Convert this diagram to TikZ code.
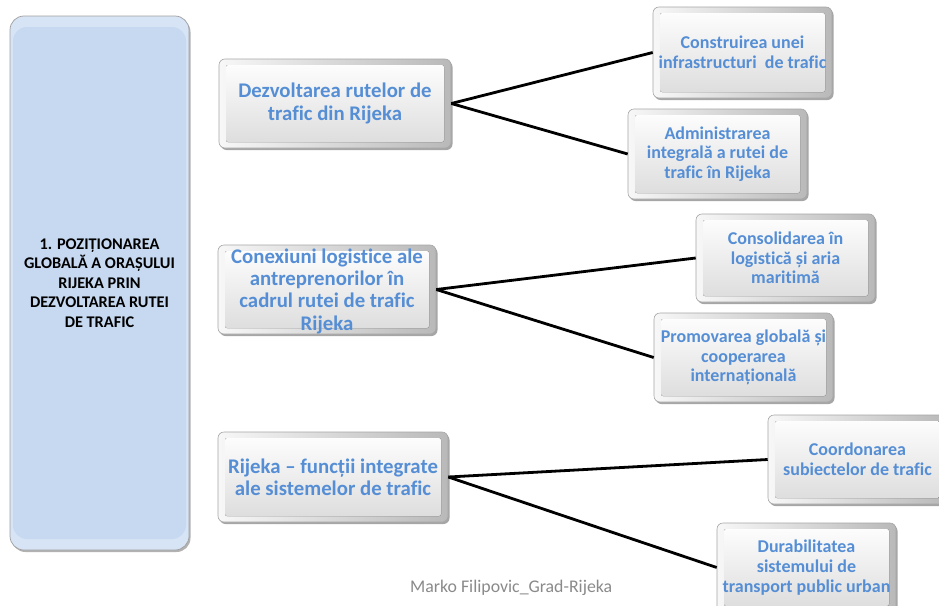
\documentclass[tikz,border=0pt]{standalone}
\usepackage{fontspec}
\setmainfont[Ligatures=CommonOff]{Carlito}
\usetikzlibrary{shadows}
\definecolor{txtblue}{HTML}{558ED5}
\definecolor{leftblue}{HTML}{C6D9F1}
\definecolor{footgray}{HTML}{8A8A8A}
\tikzset{
  bevelbox/.style={rounded corners=6pt, draw=gray!70, line width=0.6pt,
    left color=gray!6, right color=gray!55,
    drop shadow={shadow xshift=1.5pt, shadow yshift=-2pt, opacity=0.35, fill=black},
    path picture={\fill[top color=white, bottom color=gray!28, rounded corners=2pt]
      ([shift={(7pt,-6pt)}]path picture bounding box.north west) rectangle
      ([shift={(-7pt,6pt)}]path picture bounding box.south east);},
    align=center, inner sep=0pt, text=txtblue, font=\bfseries},
  midbox/.style={bevelbox, font=\bfseries\fontsize{20.8}{22.3}\selectfont},
  rightbox/.style={bevelbox, minimum width=179pt, font=\bfseries\fontsize{18}{19.6}\selectfont},
  leftbox/.style={rounded corners=14pt, draw=gray!75, line width=0.7pt, fill=leftblue!70!white,
    drop shadow={shadow xshift=1.5pt, shadow yshift=-2pt, opacity=0.3, fill=black},
    path picture={\fill[leftblue]
      ([shift={(3pt,-11pt)}]path picture bounding box.north west) rectangle
      ([shift={(-3pt,11pt)}]path picture bounding box.south east);},
    align=center, inner sep=0pt, font=\bfseries\fontsize{16.3}{19.4}\selectfont},
  conn/.style={line width=2.8pt, black},
}
\begin{document}
\begin{tikzpicture}[x=1pt,y=-1pt]
\useasboundingbox (0,0) rectangle (939,605);
\fill[white] (0,0) rectangle (939,605);

\node[leftbox, minimum width=179pt, minimum height=534pt] (L) at (99.5,283)
  {1. POZIȚIONAREA\\GLOBALĂ A ORAȘULUI\\RIJEKA PRIN\\DEZVOLTAREA RUTEI\\DE TRAFIC};

\node[midbox, minimum width=232pt, minimum height=89pt] (M1) at (335,103.5)
  {Dezvoltarea rutelor de\\trafic din Rijeka};
\node[midbox, minimum width=218pt, minimum height=89pt, text depth=0pt] (M2) at (327,289.5)
  {Conexiuni logistice ale\\antreprenorilor în\\cadrul rutei de trafic\\Rijeka};
\node[midbox, minimum width=230pt, minimum height=90pt] (M3) at (333,477)
  {Rijeka – funcții integrate\\ale sistemelor de trafic};

\node[rightbox, minimum height=91pt] (A) at (742.5,52.5)
  {Construirea unei\\infrastructuri \ de trafic};
\node[rightbox, minimum height=90pt] (B) at (717.5,154)
  {Administrarea\\integrală a rutei de\\trafic în Rijeka};
\node[rightbox, minimum height=88pt] (C) at (785.5,258)
  {Consolidarea în\\logistică și aria\\maritimă};
\node[rightbox, minimum height=89pt] (D) at (743.5,357.5)
  {Promovarea globală și\\cooperarea\\internațională};
\node[rightbox, minimum height=89pt] (E) at (857.5,459.5)
  {Coordonarea\\subiectelor de trafic};
\node[rightbox, minimum height=89pt] (F) at (806.5,567.5)
  {Durabilitatea\\sistemului de\\transport public urban};

\draw[conn] (M1.east) -- (A.west);
\draw[conn] (M1.east) -- (B.west);
\draw[conn] (M2.east) -- (C.west);
\draw[conn] (M2.east) -- (D.west);
\draw[conn] (M3.east) -- (E.west);
\draw[conn] (M3.east) -- (F.west);

\node[text=footgray, font=\fontsize{17.8}{20}\selectfont, inner sep=0pt, anchor=base west] (foot) at (410,592)
  {Marko Filipovic\_Grad-Rijeka};
\end{tikzpicture}
\end{document}
